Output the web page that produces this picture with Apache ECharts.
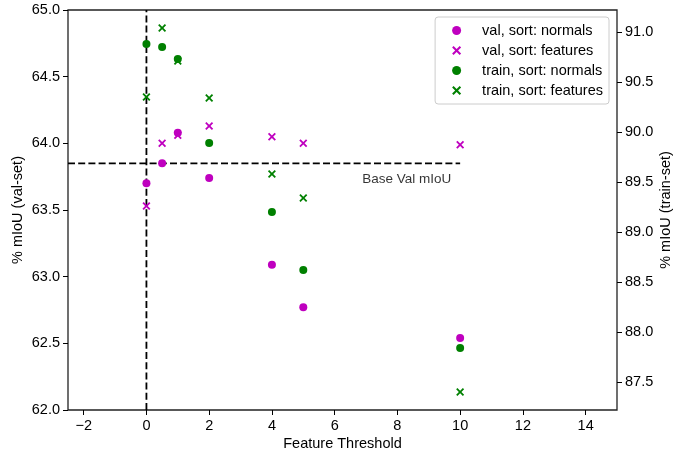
<!DOCTYPE html>
<html>
<head>
<meta charset="utf-8">
<script src="https://cdn.jsdelivr.net/npm/echarts@6/dist/echarts.min.js"></script>
<style>
html,body{margin:0;padding:0;background:#fff;}
#c{width:684px;height:452px;}
</style>
</head>
<body>
<div id="c"></div>
<script>
// ---- data ----
const thresholds = [0, 0.5, 1, 2, 4, 5, 10];
const valNormals = [63.70, 63.85, 64.08, 63.74, 63.09, 62.77, 62.54];
const valFeatures = [63.53, 64.00, 64.06, 64.13, 64.05, 64.00, 63.99];
const trainNormals = [90.88, 90.85, 90.73, 89.89, 89.20, 88.62, 87.84];
const trainFeatures = [90.35, 91.04, 90.71, 90.34, 89.58, 89.34, 87.40];
const baseValMIoU = 63.85;
const baseLineXRange = [-2.5, 10];
const xTicks = [-2, 0, 2, 4, 6, 8, 10, 12, 14];
const rightTicks = [87.5, 88.0, 88.5, 89.0, 89.5, 90.0, 90.5, 91.0];
const seriesNames = ['val, sort: normals', 'val, sort: features', 'train, sort: normals', 'train, sort: features'];
const annotationText = 'Base Val mIoU';
const annotationPos = [9.72, 63.73];

// ---- styles ----
const FONT = 'Liberation Sans, Arial, sans-serif';
const MAGENTA = '#bf00bf';
const GREEN = '#008000';
const XPATH = 'path://M0,1.6 L1.6,0 L5,3.4 L8.4,0 L10,1.6 L6.6,5 L10,8.4 L8.4,10 L5,6.6 L1.6,10 L0,8.4 L3.4,5 Z';

const zip = (xs, ys) => xs.map((x, i) => [x, ys[i]]);
const fmt1 = v => v.toFixed(1);
const fmtMinus = v => String(v).replace('-', '\u2212');

const chart = echarts.init(document.getElementById('c'), null, {renderer: 'canvas'});

const axisText = {fontFamily: FONT, fontSize: 14.5, color: '#000'};

chart.setOption({
  animation: false,
  backgroundColor: '#fff',
  grid: {left: 68, right: 67, top: 10, bottom: 42, outerBoundsMode: 'none', containLabel: false,
    show: true, borderColor: '#222', borderWidth: 1.3, backgroundColor: 'transparent'},
  legend: {
    data: [
      {name: seriesNames[0], icon: 'circle'},
      {name: seriesNames[1], icon: XPATH},
      {name: seriesNames[2], icon: 'circle'},
      {name: seriesNames[3], icon: XPATH}
    ],
    orient: 'vertical',
    align: 'left',
    right: 75,
    top: 17,
    itemWidth: 9,
    itemHeight: 9,
    itemGap: 5,
    padding: [6, 6, 6, 17],
    borderColor: '#cccccc',
    borderWidth: 1,
    borderRadius: 3,
    backgroundColor: 'rgba(255,255,255,0.8)',
    textStyle: {fontFamily: FONT, fontSize: 14.5, color: '#000', padding: [0, 0, 0, 16]}
  },
  xAxis: {
    type: 'value', min: -2.5, max: 15,
    name: 'Feature Threshold', nameLocation: 'middle', nameGap: 26, nameMoveOverlap: false,
    nameTextStyle: axisText,
    axisLine: {show: false, onZero: false},
    axisTick: {show: true, length: 5, lineStyle: {color: '#000', width: 1}, customValues: xTicks},
    axisLabel: Object.assign({margin: 8, customValues: xTicks, formatter: fmtMinus}, axisText),
    splitLine: {show: false}
  },
  yAxis: [
    {
      type: 'value', min: 62, max: 65, interval: 0.5, position: 'left',
      name: '% mIoU (val-set)', nameLocation: 'middle', nameGap: 43, nameRotate: 90, nameMoveOverlap: false,
      nameTextStyle: axisText,
      axisLine: {show: false, onZero: false},
      axisTick: {show: true, length: 5, lineStyle: {color: '#000', width: 1}},
      axisLabel: Object.assign({margin: 8, formatter: fmt1}, axisText),
      splitLine: {show: false}
    },
    {
      type: 'value', min: 87.22, max: 91.22, position: 'right',
      name: '% mIoU (train-set)', nameLocation: 'middle', nameGap: 41, nameRotate: 90, nameMoveOverlap: false,
      nameTextStyle: axisText,
      axisLine: {show: false, onZero: false},
      axisTick: {show: true, length: 5, lineStyle: {color: '#000', width: 1}, customValues: rightTicks},
      axisLabel: Object.assign({margin: 8, customValues: rightTicks, formatter: fmt1}, axisText),
      splitLine: {show: false}
    }
  ],
  series: [
    {
      type: 'line', yAxisIndex: 0, z: 1, symbol: 'none', silent: true,
      data: [[baseLineXRange[0], baseValMIoU], [baseLineXRange[1], baseValMIoU]],
      lineStyle: {color: '#000', width: 1.8, type: [7, 3.2]}
    },
    {
      type: 'line', yAxisIndex: 0, z: 1, symbol: 'none', silent: true,
      data: [[0, 62], [0, 65]],
      lineStyle: {color: '#000', width: 1.8, type: [7, 3.2]}
    },
    {
      type: 'scatter', yAxisIndex: 0, z: 1, symbolSize: 0, silent: true,
      data: [annotationPos],
      label: {show: true, position: 'inside', formatter: annotationText, align: 'right', verticalAlign: 'middle',
        fontFamily: FONT, fontSize: 13.5, color: '#000'}
    },
    {name: seriesNames[0], type: 'scatter', yAxisIndex: 0, z: 3, symbol: 'circle', symbolSize: 8,
      itemStyle: {color: MAGENTA, opacity: 1}, data: zip(thresholds, valNormals)},
    {name: seriesNames[1], type: 'scatter', yAxisIndex: 0, z: 3, symbol: XPATH, symbolSize: 8,
      itemStyle: {color: MAGENTA, opacity: 1}, data: zip(thresholds, valFeatures)},
    {name: seriesNames[2], type: 'scatter', yAxisIndex: 1, z: 3, symbol: 'circle', symbolSize: 8,
      itemStyle: {color: GREEN, opacity: 1}, data: zip(thresholds, trainNormals)},
    {name: seriesNames[3], type: 'scatter', yAxisIndex: 1, z: 3, symbol: XPATH, symbolSize: 8,
      itemStyle: {color: GREEN, opacity: 1}, data: zip(thresholds, trainFeatures)}
  ]
});
</script>
</body>
</html>
